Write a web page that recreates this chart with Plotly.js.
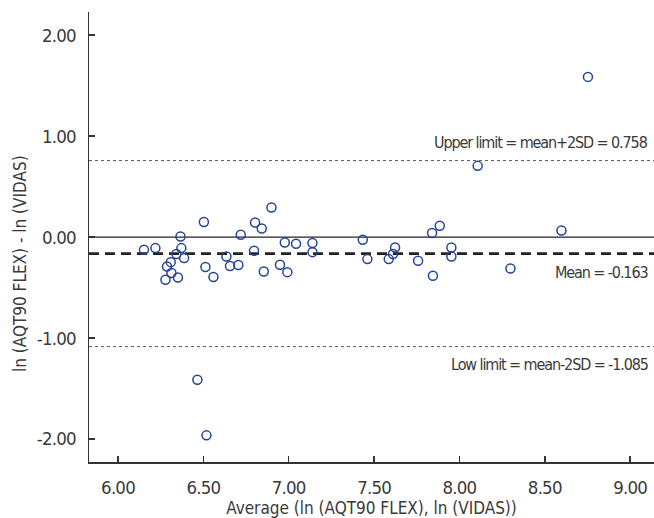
<!DOCTYPE html>
<html>
<head>
<meta charset="utf-8">
<script src="https://cdn.plot.ly/plotly-3.0.1.min.js"></script>
<style>
html,body{margin:0;padding:0;background:#fff;}
#chart{width:654px;height:518px;}
#chart .xtick text, #chart .ytick text{letter-spacing:-0.8px;}
</style>
</head>
<body>
<div id="chart"></div>
<script>
// Average of ln values (x) and difference of ln values (y)
const avgLn = [6.152, 6.219, 6.366, 6.371, 6.342, 6.387, 6.309, 6.287, 6.313, 6.351,
  6.278, 6.512, 6.559, 6.503, 6.635, 6.656, 6.705, 6.719, 6.803, 6.842,
  6.797, 6.899, 6.854, 6.949, 6.992, 6.977, 7.043, 7.139, 7.139, 7.434,
  7.461, 7.586, 7.611, 7.623, 7.758, 7.840, 7.885, 7.845, 7.953, 7.953,
  8.299, 8.598, 8.753, 8.107, 6.465, 6.518];
const diffLn = [-0.126, -0.109, 0.006, -0.109, -0.168, -0.208, -0.248, -0.291, -0.356, -0.400,
  -0.423, -0.297, -0.396, 0.149, -0.192, -0.287, -0.277, 0.023, 0.145, 0.085,
  -0.136, 0.293, -0.340, -0.274, -0.347, -0.053, -0.066, -0.059, -0.149, -0.027,
  -0.218, -0.218, -0.168, -0.103, -0.235, 0.040, 0.112, -0.383, -0.103, -0.192,
  -0.311, 0.065, 1.587, 0.706, -1.413, -1.964];

const meanDiff = -0.163;
const upperLimit = 0.758;
const lowerLimit = -1.085;
const zeroLine = 0;

const xTickVals = [6.0, 6.5, 7.0, 7.5, 8.0, 8.5, 9.0];
const xTickText = ["6.00", "6.50", "7.00", "7.50", "8.00", "8.50", "9.00"];
const yTickVals = [-2, -1, 0, 1, 2];
const yTickText = ["-2.00", "-1.00", "0.00", "1.00", "2.00"];

const xTitle = "Average (ln (AQT90 FLEX), ln (VIDAS))";
const yTitle = "ln (AQT90 FLEX) - ln (VIDAS)";
const labelUpper = "Upper limit = mean+2SD = " + upperLimit.toFixed(3);
const labelMean = "Mean = " + meanDiff.toFixed(3);
const labelLower = "Low limit = mean-2SD = " + lowerLimit.toFixed(3);

const FONT = "'Liberation Sans Narrow', 'DejaVu Sans Condensed', 'Roboto Condensed', 'Arial Narrow', sans-serif";
const TXT = "#3a3a3a";

function tight(s) { return '<span style="letter-spacing:-1.1px">' + s + '</span>'; }

const trace = {
  x: avgLn, y: diffLn, type: "scatter", mode: "markers",
  marker: {symbol: "circle-open", size: 9, color: "#24449a", line: {width: 1.5, color: "#24449a"}},
  hoverinfo: "x+y", showlegend: false
};

function hline(y, width, dash, color) {
  return {type: "line", xref: "paper", x0: 0, x1: 1, yref: "y", y0: y, y1: y,
    line: {color: color, width: width, dash: dash}, layer: "below"};
}

const layout = {
  width: 654, height: 518,
  margin: {l: 89, r: 0, t: 12, b: 56, pad: 0},
  paper_bgcolor: "#fff", plot_bgcolor: "#fff",
  font: {family: FONT, color: TXT, size: 17},
  xaxis: {
    range: [5.83, 9.14], tickvals: xTickVals, ticktext: xTickText,
    showgrid: false, zeroline: false, showline: true, linecolor: "#333", linewidth: 1.5,
    ticks: "inside", ticklen: 6, tickwidth: 1.5, tickcolor: "#333", ticklabelstandoff: 8,
    tickfont: {family: FONT, size: 18.5, color: TXT},
    title: {text: xTitle, font: {family: FONT, size: 17, color: TXT}, standoff: 4}
  },
  yaxis: {
    range: [-2.228, 2.23], tickvals: yTickVals, ticktext: yTickText,
    showgrid: false, zeroline: false, showline: true, linecolor: "#333", linewidth: 1.5,
    ticks: "inside", ticklen: 6, tickwidth: 1.5, tickcolor: "#333", ticklabelstandoff: 8,
    tickfont: {family: FONT, size: 18.5, color: TXT}
  },
  shapes: [
    hline(zeroLine, 1.3, "solid", "#222"),
    hline(meanDiff, 2.8, "10px,6px", "#222"),
    hline(upperLimit, 1, "3px,3px", "#555"),
    hline(lowerLimit, 1, "3px,3px", "#555")
  ],
  annotations: [
    {xref: "paper", x: 0, xshift: -69, yref: "paper", y: 0.44, text: yTitle, textangle: -90,
      showarrow: false, xanchor: "center", yanchor: "middle", font: {family: FONT, size: 17, color: TXT}},
    {xref: "paper", x: 0.993, yref: "y", y: upperLimit, text: tight(labelUpper), showarrow: false,
      xanchor: "right", yanchor: "bottom", yshift: 7, font: {family: FONT, size: 16, color: TXT}},
    {xref: "paper", x: 0.993, yref: "y", y: meanDiff, text: tight(labelMean), showarrow: false,
      xanchor: "right", yanchor: "top", yshift: -7, font: {family: FONT, size: 16, color: TXT}},
    {xref: "paper", x: 0.993, yref: "y", y: lowerLimit, text: tight(labelLower), showarrow: false,
      xanchor: "right", yanchor: "top", yshift: -6, font: {family: FONT, size: 16, color: TXT}}
  ]
};

Plotly.newPlot("chart", [trace], layout, {displayModeBar: false, staticPlot: true});
</script>
</body>
</html>
